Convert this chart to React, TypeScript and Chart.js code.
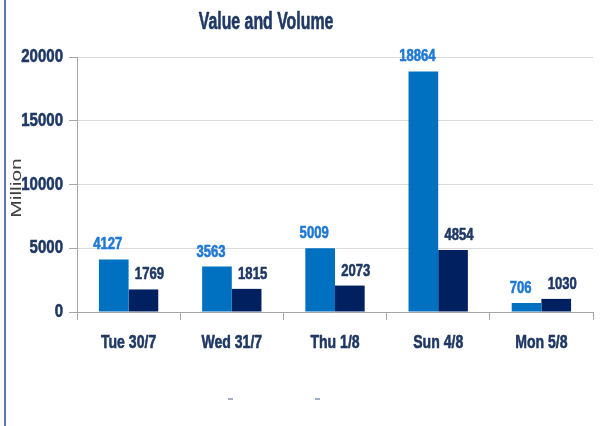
import React, { useEffect, useRef } from "react";
import { Chart, registerables } from "chart.js";

Chart.register(...registerables);

const categories = ["Tue 30/7", "Wed 31/7", "Thu 1/8", "Sun 4/8", "Mon 5/8"];
const valueSeries = [4127, 3563, 5009, 18864, 706];
const volumeSeries = [1769, 1815, 2073, 4854, 1030];
const yTicks = [0, 5000, 10000, 15000, 20000];
const titleText = "Value and Volume";
const yAxisTitle = "Million";

const FONT = '"Liberation Sans", Arial, sans-serif';
const NAVY = "#1F3864";

function drawScaled(ctx: any, text: string, x: number, y: number, font: string, color: string, align: string, baseline: string, sx: number) {
  ctx.save();
  ctx.translate(x, y);
  ctx.scale(sx, 1);
  ctx.font = font;
  ctx.fillStyle = color;
  ctx.strokeStyle = color;
  ctx.lineWidth = 0.6;
  ctx.lineJoin = "round";
  ctx.textAlign = align;
  ctx.textBaseline = baseline;
  ctx.fillText(text, 0, 0);
  ctx.strokeText(text, 0, 0);
  ctx.restore();
}

const textPlugin = {
  id: "customText",
  afterDatasetsDraw(chart: any) {
    const ctx = chart.ctx;
    const area = chart.chartArea;
    // bar value labels
    const colors = ["#1F78D4", NAVY];
    const offsets = [-6, 6];
    chart.data.datasets.forEach((ds: any, di: number) => {
      const meta = chart.getDatasetMeta(di);
      meta.data.forEach((el: any, i: number) => {
        drawScaled(ctx, String(ds.data[i]), el.x + offsets[di], el.y - 10, `bold 17px ${FONT}`, colors[di], "center", "alphabetic", 0.77);
      });
    });
    // y tick labels
    const ys = chart.scales.y;
    yTicks.forEach((v) => {
      drawScaled(ctx, String(v), area.left - 14, ys.getPixelForValue(v), `bold 19px ${FONT}`, NAVY, "right", "middle", 0.79);
    });
    // x tick labels
    const xs = chart.scales.x;
    categories.forEach((c, i) => {
      drawScaled(ctx, c, xs.getPixelForValue(i), area.bottom + 36, `bold 19px ${FONT}`, NAVY, "center", "alphabetic", 0.74);
    });
    // title
    drawScaled(ctx, titleText, 266, 29, `bold 23px ${FONT}`, NAVY, "center", "alphabetic", 0.69);
    // y-axis title
    ctx.save();
    ctx.translate(17, 188);
    ctx.rotate(-Math.PI / 2);
    ctx.scale(1.5, 1);
    ctx.font = `14px ${FONT}`;
    ctx.fillStyle = "#404040";
    ctx.textAlign = "center";
    ctx.textBaseline = "middle";
    ctx.fillText(yAxisTitle, 0, 0);
    ctx.restore();
  },
};

export default function App() {
  const ref = useRef<HTMLCanvasElement | null>(null);
  useEffect(() => {
    if (!ref.current) return;
    const chart = new Chart(ref.current, {
      type: "bar",
      data: {
        labels: categories,
        datasets: [
          {
            label: "Value",
            data: valueSeries,
            backgroundColor: "#0070C0",
            categoryPercentage: 0.575,
            barPercentage: 1,
          },
          {
            label: "Volume",
            data: volumeSeries,
            backgroundColor: "#002060",
            categoryPercentage: 0.575,
            barPercentage: 1,
          },
        ],
      },
      options: {
        animation: false,
        responsive: false,
        maintainAspectRatio: false,
        layout: { padding: { top: 57, left: 0, right: 9, bottom: 74 } },
        plugins: {
          legend: { display: false },
          tooltip: { enabled: false },
          title: { display: false },
        },
        scales: {
          x: {
            grid: {
              drawOnChartArea: false,
              drawTicks: true,
              tickLength: 8,
              tickColor: "#A6A6A6",
              offset: true,
            },
            border: { color: "#A6A6A6", width: 1 },
            ticks: {
              color: "rgba(0,0,0,0)",
              font: { family: FONT, size: 18, weight: "bold" },
              padding: 10,
              maxRotation: 0,
            },
            afterFit(scale: any) {
              scale.height = 40;
            },
          },
          y: {
            min: 0,
            max: 20000,
            afterBuildTicks(scale: any) {
              scale.ticks = yTicks.map((v) => ({ value: v }));
            },
            grid: {
              color: "#D9D9D9",
              tickLength: 8,
              tickColor: "#A6A6A6",
            },
            border: { color: "#A6A6A6", width: 1 },
            ticks: {
              color: "rgba(0,0,0,0)",
              font: { family: FONT, size: 10 },
              padding: 6,
              callback: (v: any) => String(v),
            },
            afterFit(scale: any) {
              scale.width = 77;
            },
          },
        },
      },
      plugins: [textPlugin],
    });
    return () => chart.destroy();
  }, []);

  return (
    <div style={{ position: "fixed", left: 0, top: 0, width: 602, height: 426, background: "#fff" }}>
      <canvas ref={ref} width={602} height={426} style={{ position: "absolute", left: 0, top: 0 }} />
      <div style={{ position: "absolute", left: 4, top: 0, width: 2, height: 426, background: "#5B78B0" }} />
      <div style={{ position: "absolute", left: 228, top: 398, width: 5, height: 2, background: "#9FAECB" }} />
      <div style={{ position: "absolute", left: 315, top: 398, width: 5, height: 2, background: "#9FAECB" }} />
    </div>
  );
}
